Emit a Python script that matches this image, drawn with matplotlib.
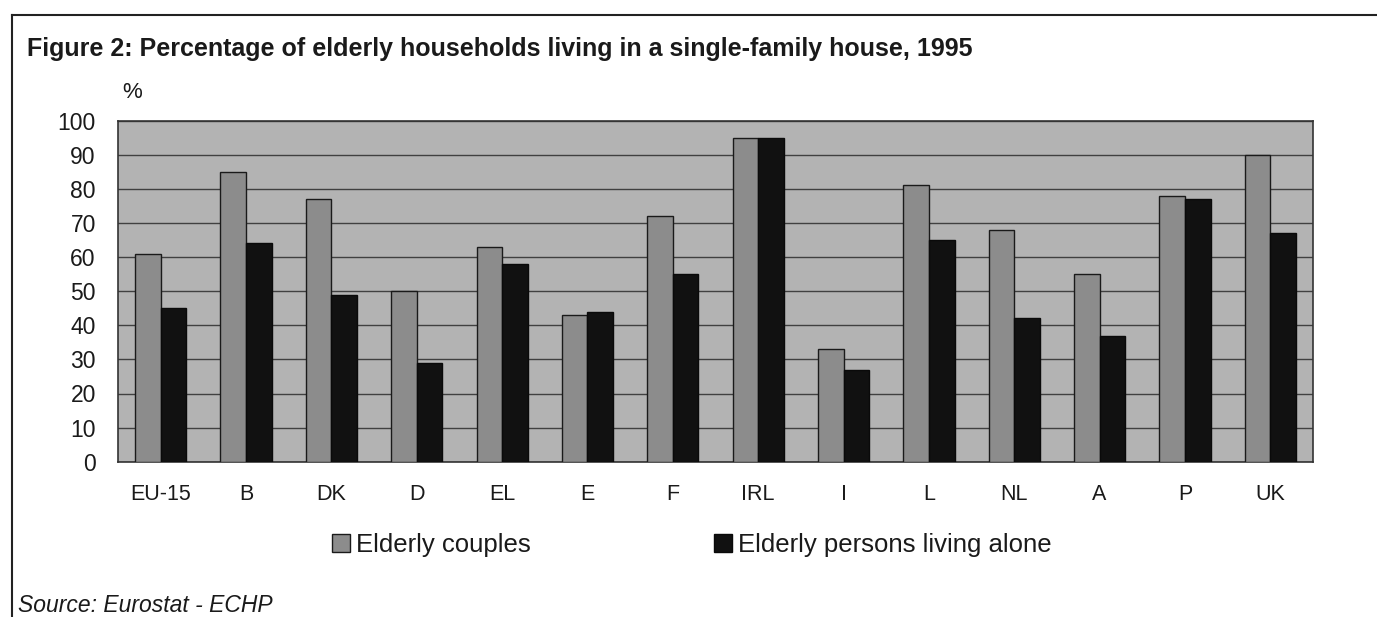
import matplotlib
matplotlib.use("Agg")
import matplotlib.pyplot as plt
import numpy as np
from matplotlib.patches import Patch
from matplotlib.lines import Line2D

categories = ["EU-15", "B", "DK", "D", "EL", "E", "F", "IRL", "I", "L", "NL", "A", "P", "UK"]
couples = [61, 85, 77, 50, 63, 43, 72, 95, 33, 81, 68, 55, 78, 90]
alone = [45, 64, 49, 29, 58, 44, 55, 95, 27, 65, 42, 37, 77, 67]
yticks = [0, 10, 20, 30, 40, 50, 60, 70, 80, 90, 100]

plt.rcParams['font.family'] = ['Liberation Sans', 'DejaVu Sans']

W, H = 1377, 617
fig = plt.figure(figsize=(W / 100, H / 100), dpi=100)
fig.patch.set_facecolor('white')

ax = fig.add_axes([118 / W, 1 - 461.7 / H, (1313 - 118) / W, (461.7 - 120.7) / H])
ax.set_facecolor('#b3b3b3')

x = np.arange(len(categories))
bw = 0.3
ax.bar(x - bw / 2, couples, width=bw, color='#8c8c8c', edgecolor='#1a1a1a', linewidth=1.0, zorder=3)
ax.bar(x + bw / 2, alone, width=bw, color='#111111', edgecolor='#0a0a0a', linewidth=1.0, zorder=3)

ax.set_xlim(-0.5, len(categories) - 0.5)
ax.set_ylim(0, 100)
ax.set_yticks(yticks)
ax.set_yticklabels([str(v) for v in yticks], fontsize=16.5, color='#1a1a1a')
ax.set_xticks(x)
ax.set_xticklabels(categories, fontsize=15.5, color='#1a1a1a')
ax.tick_params(axis='both', length=0)
ax.tick_params(axis='y', pad=16)
ax.tick_params(axis='x', pad=16)
ax.yaxis.grid(True, color='#404040', linewidth=1.0, zorder=1)
ax.set_axisbelow(True)
for s in ax.spines.values():
    s.set_color('#333333')
    s.set_linewidth(1.2)

fig.text(132 / W, 1 - 92 / H, "%", fontsize=16, ha='center', va='center', color='#1a1a1a')

fig.text(27 / W, 1 - 49 / H,
         "Figure 2: Percentage of elderly households living in a single-family house, 1995",
         fontsize=18, fontweight='bold', ha='left', va='center', color='#1a1a1a')

handles = [Patch(facecolor='#8c8c8c', edgecolor='#1a1a1a', label='Elderly couples'),
           Patch(facecolor='#111111', edgecolor='#0a0a0a', label='Elderly persons living alone')]
leg = fig.legend(handles=handles, loc='center left', bbox_to_anchor=(332 / W, 1 - 545 / H),
                 ncol=2, frameon=False, fontsize=18.5, handlelength=0.7, handleheight=0.7,
                 handletextpad=0.25, columnspacing=7.1, borderpad=0, borderaxespad=0)
for t in leg.get_texts():
    t.set_color('#1a1a1a')

fig.text(18 / W, 1 - 605 / H, "Source: Eurostat - ECHP", fontsize=16.5, style='italic',
         ha='left', va='center', color='#1a1a1a')

# frame lines (top and left)
fig.add_artist(Line2D([12 / W, 1], [1 - 15 / H, 1 - 15 / H], color='#222222', linewidth=1.5))
fig.add_artist(Line2D([12 / W, 12 / W], [0, 1 - 15 / H], color='#222222', linewidth=1.5))

fig.savefig("out.png", dpi=100, facecolor='white')
